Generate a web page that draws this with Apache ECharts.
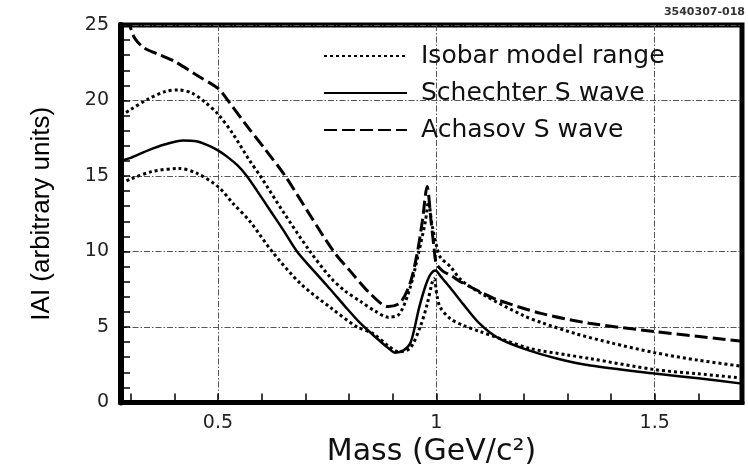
<!DOCTYPE html>
<html>
<head>
<meta charset="utf-8">
<script src="https://cdn.jsdelivr.net/npm/echarts@6/dist/echarts.min.js"></script>
<style>
  html, body { margin: 0; padding: 0; background: #fff; }
  #chart { width: 748px; height: 465px; }
</style>
</head>
<body>
<div id="chart"></div>
<script>
// |A| versus invariant mass for the S-wave parametrisations

// Achasov S wave (dashed)
const achasovMass = [0.278, 0.29, 0.30, 0.31, 0.33, 0.36, 0.40, 0.45, 0.50, 0.523, 0.564, 0.61, 0.654, 0.711, 0.765, 0.803, 0.849, 0.89, 0.917, 0.94, 0.956, 0.968, 0.979, 0.988, 0.995, 1.0, 1.015, 1.034, 1.055, 1.11, 1.14, 1.24, 1.35, 1.5, 1.7];
const achasovAmp  = [26.6, 25.6, 24.8, 24.1, 23.5, 23.1, 22.6, 21.7, 20.8, 20.0, 18.4, 16.7, 15.0, 12.4, 10.0, 8.7, 7.2, 6.35, 6.6, 7.9, 9.85, 12.0, 14.3, 12.0, 10.2, 9.2, 8.7, 8.4, 8.0, 7.2, 6.8, 5.9, 5.25, 4.7, 4.05];

// Schechter S wave (solid)
const schechterMass = [0.278, 0.30, 0.34, 0.38, 0.42, 0.45, 0.48, 0.50, 0.52, 0.545, 0.566, 0.59, 0.62, 0.65, 0.681, 0.72, 0.757, 0.79, 0.826, 0.86, 0.89, 0.906, 0.925, 0.94, 0.95, 0.96, 0.975, 0.987, 0.998, 1.01, 1.032, 1.062, 1.10, 1.14, 1.2, 1.278, 1.353, 1.5, 1.6, 1.7];
const schechterAmp  = [16.0, 16.2, 16.7, 17.1, 17.35, 17.3, 17.0, 16.7, 16.3, 15.7, 15.0, 14.0, 12.7, 11.4, 10.0, 8.7, 7.5, 6.4, 5.25, 4.35, 3.6, 3.3, 3.45, 3.9, 4.9, 6.2, 7.7, 8.5, 8.75, 8.35, 7.6, 6.5, 5.2, 4.3, 3.57, 2.9, 2.45, 1.92, 1.6, 1.25];

// Isobar model range, upper edge (dotted)
const isobarHighMass = [0.278, 0.30, 0.34, 0.38, 0.41, 0.44, 0.47, 0.50, 0.534, 0.573, 0.597, 0.65, 0.711, 0.757, 0.79, 0.826, 0.86, 0.89, 0.915, 0.94, 0.959, 0.975, 0.982, 0.99, 1.002, 1.01, 1.032, 1.057, 1.11, 1.2, 1.24, 1.32, 1.4, 1.5, 1.6, 1.7];
const isobarHighAmp  = [19.0, 19.4, 20.1, 20.6, 20.7, 20.5, 19.9, 19.1, 17.8, 16.0, 15.0, 12.6, 10.0, 8.3, 7.4, 6.7, 6.05, 5.65, 5.85, 7.6, 9.85, 12.0, 13.3, 11.8, 10.2, 9.6, 9.0, 8.1, 7.1, 5.75, 5.3, 4.55, 3.95, 3.3, 2.8, 2.4];

// Isobar model range, lower edge (dotted)
const isobarLowMass = [0.278, 0.30, 0.35, 0.41, 0.45, 0.50, 0.534, 0.573, 0.624, 0.688, 0.757, 0.819, 0.856, 0.89, 0.915, 0.94, 0.963, 0.979, 0.99, 0.995, 1.002, 1.009, 1.032, 1.062, 1.10, 1.14, 1.216, 1.3, 1.353, 1.5, 1.6, 1.7];
const isobarLowAmp  = [14.5, 14.8, 15.3, 15.5, 15.2, 14.3, 13.2, 12.0, 10.0, 7.9, 6.3, 5.0, 4.55, 3.75, 3.35, 3.6, 5.0, 6.5, 7.9, 8.2, 7.0, 6.3, 5.55, 5.1, 4.7, 4.3, 3.57, 3.15, 2.9, 2.18, 1.9, 1.62];

// Axis ranges and tick positions
const massMin = 0.278, massMax = 1.7;
const massLabels = [0.5, 1, 1.5];
const massMinorTicks = [0.3, 0.4, 0.5, 0.6, 0.7, 0.8, 0.9, 1.0, 1.1, 1.2, 1.3, 1.4, 1.5, 1.6];
const ampMin = 0, ampMax = 25, ampStep = 5;

const legendIsobar = 'Isobar model range';
const legendSchechter = 'Schechter S wave';
const legendAchasov = 'Achasov S wave';

function pairs(xs, ys) { return xs.map((x, i) => [x, ys[i]]); }

const gridDash = [6, 2, 1.5, 2];
const textFont = 'DejaVu Sans';
const titleFont = '"Liberation Sans", sans-serif';

const chart = echarts.init(document.getElementById('chart'), null, { renderer: 'canvas' });

const curve = (name, xs, ys, dash, width) => ({
  name, type: 'line', xAxisIndex: 0, yAxisIndex: 0,
  data: pairs(xs, ys), symbol: 'none', smooth: 0.3,
  clip: true, z: 3,
  lineStyle: { color: '#000', width, type: dash, cap: 'butt' },
  itemStyle: { color: '#000' }
});

chart.setOption({
  animation: false,
  backgroundColor: '#fff',
  grid: {
    left: 121, right: 6, top: 25, bottom: 62.5,
    outerBoundsMode: 'none', containLabel: false,
    show: true, borderColor: '#000', borderWidth: 5, backgroundColor: 'transparent'
  },
  legend: {
    orient: 'vertical', left: 323, top: 43, padding: 0,
    itemWidth: 83, itemHeight: 14, itemGap: 11,
    itemStyle: { opacity: 0 },
    data: [legendIsobar, legendSchechter, legendAchasov],
    textStyle: { fontFamily: textFont, fontSize: 25, color: '#111', lineHeight: 26, padding: [0, 0, 0, 9] },
    selectedMode: false
  },
  xAxis: [{
    type: 'value', min: massMin, max: massMax, position: 'bottom',
    name: 'Mass (GeV/c²)', nameLocation: 'middle', nameGap: 35, nameMoveOverlap: false,
    nameTextStyle: { fontFamily: textFont, fontSize: 30, color: '#111' },
    axisLine: { show: true, onZero: false, lineStyle: { color: '#000', width: 5 } },
    axisTick: { show: true, inside: true, length: 9, customValues: massMinorTicks, lineStyle: { color: '#000', width: 1.5 } },
    axisLabel: { show: true, customValues: massLabels, margin: 11, fontFamily: textFont, fontSize: 19, color: '#222',
      formatter: v => String(v) },
    splitLine: { show: false }
  }, {
    // carries only the vertical grid lines at the labelled masses
    type: 'value', min: massMin, max: massMax, position: 'top',
    axisLine: { show: false }, axisLabel: { show: false },
    axisTick: { show: false, customValues: massLabels },
    splitLine: { show: true, lineStyle: { color: '#555', width: 1, type: gridDash } }
  }],
  yAxis: {
    type: 'value', min: ampMin, max: ampMax, interval: ampStep,
    name: 'IAI (arbitrary units)', nameLocation: 'middle', nameGap: 66, nameMoveOverlap: false,
    nameTextStyle: { fontFamily: titleFont, fontSize: 26, color: '#000' },
    axisLine: { show: true, lineStyle: { color: '#000', width: 6 } },
    axisTick: { show: true, inside: true, length: 9, lineStyle: { color: '#000', width: 1.5 } },
    minorTick: { show: true, splitNumber: 5, length: 9, lineStyle: { color: '#000', width: 1.5 } },
    axisLabel: { margin: 12, fontFamily: textFont, fontSize: 19, color: '#222' },
    splitLine: { show: true, lineStyle: { color: '#555', width: 1, type: gridDash } }
  },
  graphic: [{
    type: 'text', right: 3, top: 7,
    style: { text: '3540307-018', font: 'bold 11px "DejaVu Sans"', fill: '#333' }
  }],
  series: [
    curve(legendIsobar, isobarHighMass, isobarHighAmp, [3, 3], 3),
    curve(legendSchechter, schechterMass, schechterAmp, 'solid', 2.5),
    curve(legendAchasov, achasovMass, achasovAmp, [13, 5], 3),
    curve(legendIsobar, isobarLowMass, isobarLowAmp, [3, 3], 3)
  ]
});
</script>
</body>
</html>
